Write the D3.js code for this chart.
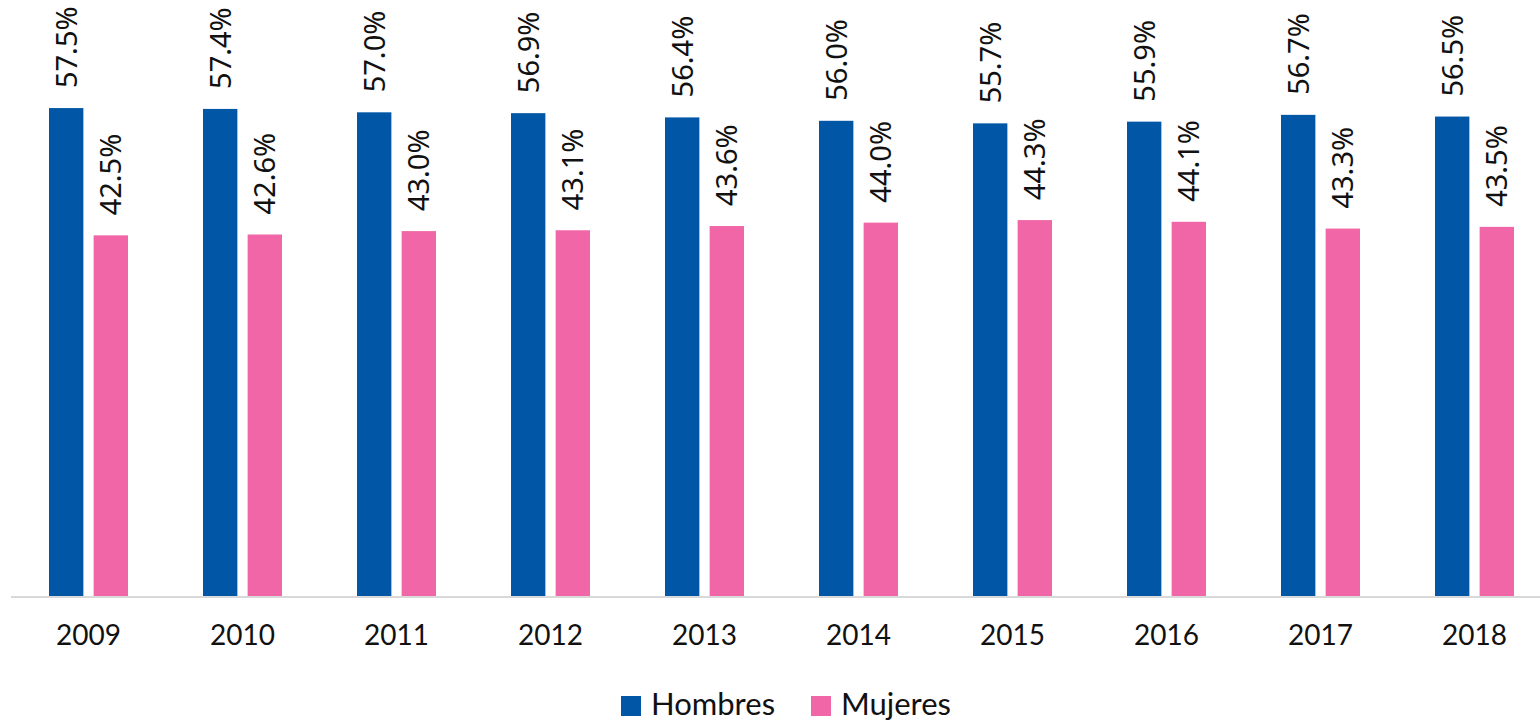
<!DOCTYPE html>
<html>
<head>
<meta charset="utf-8">
<script src="https://cdn.jsdelivr.net/npm/d3@7"></script>
<style>
  body { margin: 0; background: #fff; }
  svg { display: block; }
</style>
</head>
<body>
<div id="viz"></div>
<script>
var years = ["2009", "2010", "2011", "2012", "2013", "2014", "2015", "2016", "2017", "2018"];
var seriesNames = ["Hombres", "Mujeres"];
var hombres = [57.5, 57.4, 57.0, 56.9, 56.4, 56.0, 55.7, 55.9, 56.7, 56.5];
var mujeres = [42.5, 42.6, 43.0, 43.1, 43.6, 44.0, 44.3, 44.1, 43.3, 43.5];
var colors = ["#0156a6", "#f066a7"];

var width = 1540,
    height = 723,
    baseline = 596;

var rows = years.map(function(y, i) {
  return { year: y, values: [hombres[i], mujeres[i]] };
});

var svg = d3.select("#viz")
  .append("svg")
    .attr("width", width)
    .attr("height", height);

var x = d3.scaleBand()
  .domain(years)
  .range([11.5, 1551.5]);

var inner = d3.scaleBand()
  .domain(seriesNames)
  .range([x.bandwidth() / 2 - 39.5, x.bandwidth() / 2 + 39.5])
  .paddingInner(0.23);

var y = d3.scaleLinear()
  .domain([0, 70])
  .range([baseline, 2]);

var group = svg.selectAll("g.year")
  .data(rows)
  .enter()
  .append("g")
    .attr("class", "year")
    .attr("transform", function(d) { return "translate(" + x(d.year) + ",0)"; });

var cells = group.selectAll("g.cell")
  .data(function(d) {
    return d.values.map(function(v, j) { return { name: seriesNames[j], value: v, idx: j }; });
  })
  .enter()
  .append("g")
    .attr("class", "cell");

cells.append("rect")
  .attr("x", function(d) { return inner(d.name); })
  .attr("y", function(d) { return y(d.value); })
  .attr("width", inner.bandwidth())
  .attr("height", function(d) { return baseline - y(d.value); })
  .attr("fill", function(d) { return colors[d.idx]; });

cells.append("text")
  .attr("transform", function(d) {
    var cx = inner(d.name) + inner.bandwidth() / 2;
    return "translate(" + cx + "," + (y(d.value) - 20) + ") rotate(-90)";
  })
  .attr("dy", "0.36em")
  .attr("font-family", "'Noto Sans', 'Open Sans', sans-serif")
  .attr("font-size", 29)
  .attr("fill", "#111")
  .text(function(d) { return d.value.toFixed(1) + "%"; });

// x axis
var xAxis = svg.append("g")
  .attr("transform", "translate(0," + (baseline + 1) + ")")
  .call(d3.axisBottom(x).tickSize(0).tickPadding(28));

xAxis.select(".domain")
  .attr("stroke", "#d9d9d9")
  .attr("stroke-width", 2)
  .attr("d", "M11,0H1551");

xAxis.selectAll(".tick text")
  .attr("font-family", "Lato, 'Open Sans', sans-serif")
  .attr("font-size", 28)
  .attr("fill", "#111");

// legend
var legend = svg.append("g").attr("class", "legend");
var legendX = [621, 811];
seriesNames.forEach(function(name, i) {
  legend.append("rect")
    .attr("x", legendX[i])
    .attr("y", 696)
    .attr("width", 20)
    .attr("height", 20)
    .attr("fill", colors[i]);
  legend.append("text")
    .attr("x", legendX[i] + 30)
    .attr("y", 715)
    .attr("font-family", "Lato, 'Open Sans', sans-serif")
    .attr("font-size", 31)
    .attr("fill", "#111")
    .text(name);
});
</script>
</body>
</html>
